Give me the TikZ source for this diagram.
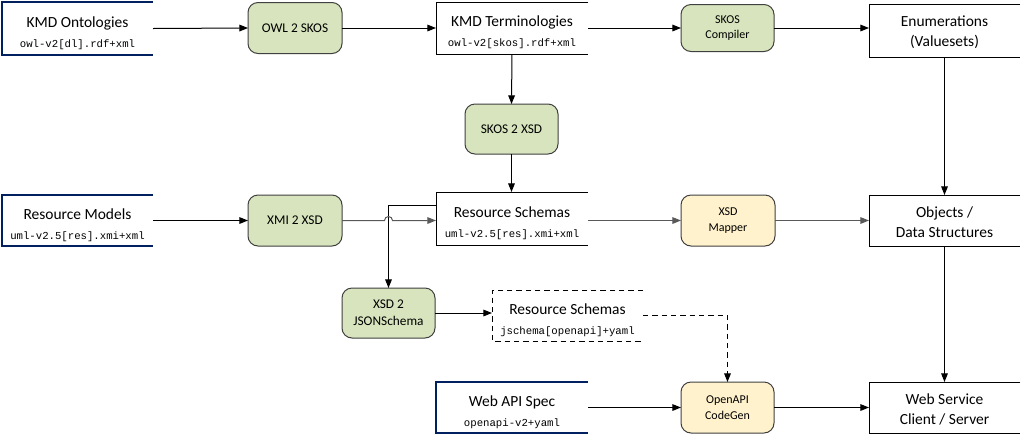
\documentclass[tikz,border=0pt]{standalone}
\usepackage{fontspec}
\setmainfont{Carlito}
\newfontfamily\monofam{Liberation Mono}
\usetikzlibrary{arrows.meta,calc}
\definecolor{navyc}{HTML}{002060}
\definecolor{greenf}{HTML}{D7E4BD}
\definecolor{yellowf}{HTML}{FFF2CC}
\definecolor{procline}{HTML}{404040}
\definecolor{grayline}{HTML}{595959}
\newcommand{\mtxt}[1]{{\monofam\fontsize{8}{9}\selectfont #1}}
\begin{document}
\begin{tikzpicture}[x=0.75pt,y=-0.75pt,
  every node/.style={inner sep=0pt,outer sep=0pt},
  sz/.style 2 args={minimum width={#1*0.75pt},minimum height={#2*0.75pt}},
  databox/.style={rectangle},
  titletext/.style={align=center,font=\fontsize{11.6}{13.5}\selectfont},
  procbox/.style={rectangle,rounded corners=7.5pt,draw=procline,line width=0.75pt,align=center,font=\fontsize{10}{12.5}\selectfont},
  smallproc/.style={font=\fontsize{9}{11.5}\selectfont},
  greenproc/.style={procbox,fill=greenf},
  yellowproc/.style={procbox,fill=yellowf},
  navyedge/.style={draw=navyc,line width=2.2pt},
  plainedge/.style={draw=black,line width=0.75pt},
  conn/.style={draw=black,line width=0.75pt,-{Triangle[length=6.5pt,width=5pt]}},
  grayconn/.style={conn,draw=grayline},
  dashconn/.style={conn,dashed,dash pattern=on 4pt off 3pt}
]
\useasboundingbox[fill=white] (0,0) rectangle (1022,437);

% data boxes
\node[databox,sz={151}{53}] (ko) at (77.5,28.5) {};
\node[databox,sz={152}{52}] (kt) at (512,28) {};
\node[databox,sz={151}{53}] (en) at (944.5,30.5) {};
\node[databox,sz={151}{51}] (rm) at (77.5,220.5) {};
\node[databox,sz={152}{53}] (rs) at (512,218.5) {};
\node[databox,sz={151}{51}] (ob) at (944.5,220.5) {};
\node[databox,sz={151}{51}] (rj) at (567.5,315.5) {};
\node[databox,sz={152}{51}] (api) at (512,407.5) {};
\node[databox,sz={151}{51}] (ws) at (944.5,407.5) {};

% texts
\node[titletext] (ko-t) at ([yshift=-3.3pt]ko.center) {KMD Ontologies\\[1.5pt]\mtxt{owl-v2[dl].rdf+xml}};
\node[titletext] (kt-t) at ([yshift=-3.3pt]kt.center) {KMD Terminologies\\[1.5pt]\mtxt{owl-v2[skos].rdf+xml}};
\node[titletext] (en-t) at ([yshift=-1.5pt]en.center) {Enumerations\\[1.5pt](Valuesets)};
\node[titletext] (rm-t) at ([yshift=-3.3pt]rm.center) {Resource Models\\[1.5pt]\mtxt{uml-v2.5[res].xmi+xml}};
\node[titletext] (rs-t) at ([yshift=-3.3pt]rs.center) {Resource Schemas\\[1.5pt]\mtxt{uml-v2.5[res].xmi+xml}};
\node[titletext] (ob-t) at ([yshift=-1.5pt]ob.center) {Objects /\\[1.5pt]Data Structures};
\node[titletext] (rj-t) at ([yshift=-3.3pt]rj.center) {Resource Schemas\\[1.5pt]\mtxt{jschema[openapi]+yaml}};
\node[titletext] (api-t) at ([yshift=-3.3pt]api.center) {Web API Spec\\[1.5pt]\mtxt{openapi-v2+yaml}};
\node[titletext] (ws-t) at ([yshift=-1.5pt]ws.center) {Web Service\\[1.5pt]Client / Server};

% open-right outlines
\foreach \n in {ko,rm,api}
  \draw[navyedge] (\n.north east) -- (\n.north west) -- (\n.south west) -- (\n.south east);
\foreach \n in {kt,en,rs,ob,ws}
  \draw[plainedge] (\n.north east) -- (\n.north west) -- (\n.south west) -- (\n.south east);
\draw[plainedge,dashed,dash pattern=on 4pt off 3pt] (rj.north east) -- (rj.north west) -- (rj.south west) -- (rj.south east);

% process boxes
\node[greenproc,sz={94}{51}] (owl) at (295,28) {OWL 2 SKOS};
\node[greenproc,smallproc,sz={93}{47}] (skc) at (727.5,28) {SKOS\\Compiler};
\node[greenproc,sz={93}{50}] (s2x) at (511.5,129) {SKOS 2 XSD};
\node[greenproc,sz={94}{51}] (xmi) at (295,220.5) {XMI 2 XSD};
\node[yellowproc,smallproc,sz={94}{51}] (map) at (728,220.5) {XSD\\Mapper};
\node[greenproc,sz={93}{50}] (x2j) at (388.5,313) {XSD 2\\JSONSchema};
\node[yellowproc,smallproc,sz={93}{51}] (gen) at (727.5,407.5) {OpenAPI\\CodeGen};

% connectors
\draw[conn] (ko.east) -- (owl.west);
\draw[conn] (owl.east) -- (kt.west);
\draw[conn] (kt.east) -- (skc.west);
\draw[conn] (skc.east) -- (en.west |- skc.east);
\draw[conn] (en.south) -- (ob.north);
\draw[conn] (kt.south) -- (s2x.north);
\draw[conn] (s2x.south) -- (rs.north -| s2x.south);
\draw[conn] (rm.east) -- (xmi.west);
\coordinate (rsw) at ($(rs.north west)!0.25!(rs.south west)$);
\draw[conn] (rsw) -| (x2j.north);
\draw[grayconn] (xmi.east) -- ($(x2j.north |- xmi.east)+(-4,0)$) arc[start angle=180,end angle=0,radius=3pt] -- (rs.west |- xmi.east);
\draw[grayconn] (rs.east |- map.west) -- (map.west);
\draw[grayconn] (map.east) -- (ob.west);
\draw[conn] (x2j.east) -- (rj.west |- x2j.east);
\draw[dashconn] (rj.east) -| (gen.north);
\draw[conn] (ob.south) -- (ws.north);
\draw[conn] (api.east) -- (gen.west);
\draw[conn] (gen.east) -- (ws.west);
\end{tikzpicture}
\end{document}
